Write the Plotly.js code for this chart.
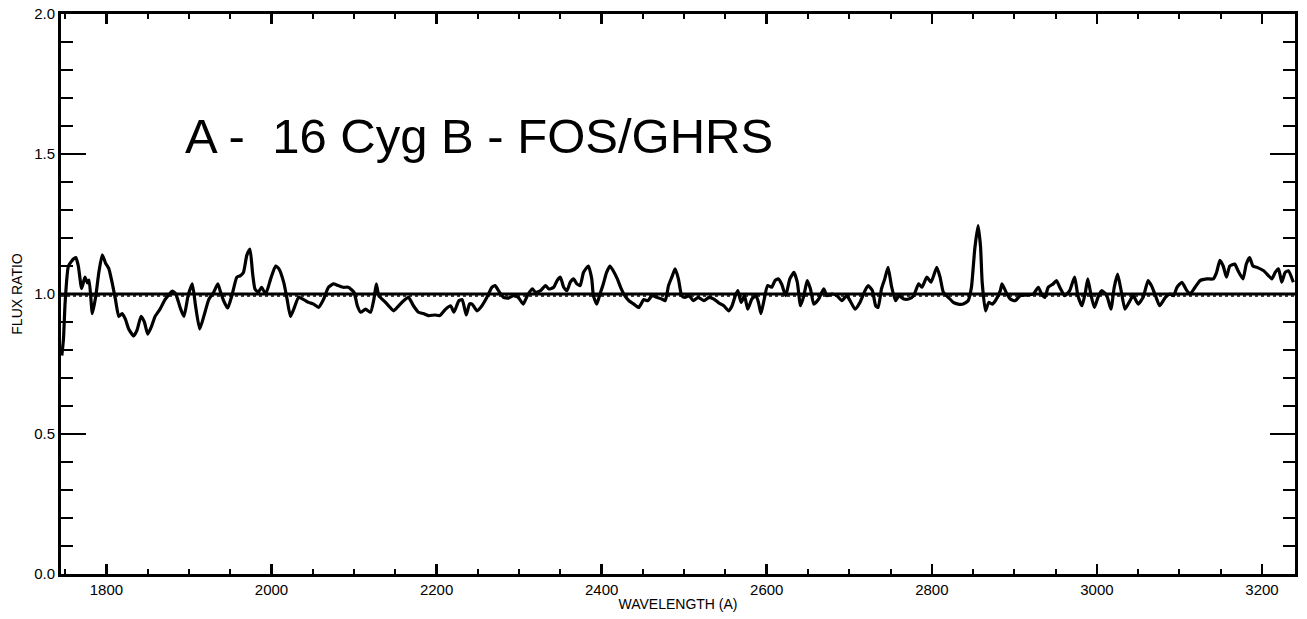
<!DOCTYPE html>
<html>
<head>
<meta charset="utf-8">
<script src="https://cdn.plot.ly/plotly-3.0.1.min.js"></script>
<style>html,body{margin:0;padding:0;background:#fff}#chart{width:1307px;height:619px}</style>
</head>
<body>
<div id="chart"></div>
<script>
// Wavelength (Angstrom) and FOS/GHRS flux ratio
const wavelength = [
1746,1748,1750,1754,1760,1763,1766,1770,1774,1777,1779,1783,1787,1791,1795,1799,1803,1807,1811,1815,
1819,1823,1827,1833,1837,1842,1846,1850,1855,1859,1865,1871,1880,1884,1890,1894,1899,1904,1908,1913,
1918,1924,1930,1935,1938,1942,1947,1952,1958,1962,1966,1970,1974,1977,1980,1984,1988,1993,1999,2005,
2009,2015,2019,2023,2027,2033,2039,2045,2051,2057,2063,2069,2075,2081,2087,2093,2100,2104,2108,2114,
2120,2124,2127,2130,2136,2142,2148,2154,2160,2166,2172,2178,2184,2190,2198,2204,2211,2217,2221,2227,
2231,2236,2240,2243,2249,2255,2261,2267,2271,2275,2281,2287,2293,2299,2305,2310,2316,2320,2326,2332,
2336,2342,2346,2350,2354,2358,2362,2366,2370,2374,2378,2384,2388,2390,2394,2398,2402,2406,2410,2414,
2419,2423,2428,2433,2439,2445,2451,2456,2461,2467,2473,2477,2481,2485,2489,2493,2497,2501,2506,2511,
2517,2524,2530,2536,2542,2548,2554,2558,2562,2565,2569,2573,2577,2582,2587,2590,2593,2597,2601,2606,
2610,2614,2618,2623,2628,2633,2637,2641,2645,2649,2653,2657,2663,2669,2673,2679,2685,2691,2697,2701,
2707,2713,2719,2723,2728,2732,2735,2739,2743,2747,2751,2756,2760,2766,2772,2778,2784,2788,2794,2799,
2806,2810,2814,2820,2826,2832,2838,2844,2848,2852,2856,2859,2861,2865,2869,2873,2877,2883,2885,2890,
2895,2901,2907,2915,2923,2929,2933,2937,2941,2947,2951,2955,2961,2967,2973,2977,2982,2986,2989,2993,
2997,3002,3006,3012,3017,3021,3025,3029,3034,3039,3044,3050,3056,3062,3066,3071,3076,3083,3089,3093,
3097,3103,3109,3113,3119,3125,3133,3141,3145,3149,3153,3157,3161,3167,3171,3177,3181,3185,3189,3194,
3202,3208,3212,3216,3220,3224,3228,3232,3238
];
const fluxRatio = [
0.78,0.84,0.97,1.10,1.125,1.13,1.10,1.02,1.06,1.04,1.05,0.93,0.99,1.08,1.14,1.11,1.09,1.04,0.98,0.92,
0.93,0.91,0.875,0.85,0.87,0.92,0.90,0.857,0.887,0.92,0.946,0.98,1.01,1.0,0.946,0.92,0.994,1.036,0.958,0.875,
0.92,0.98,1.006,1.036,1.01,0.976,0.95,0.994,1.06,1.065,1.077,1.137,1.16,1.077,1.018,1.006,1.024,1.0,1.054,1.10,
1.09,1.04,0.98,0.92,0.946,0.988,0.98,0.97,0.964,0.952,0.98,1.024,1.036,1.03,1.024,1.024,1.006,0.958,0.935,0.946,
0.935,0.98,1.036,0.994,0.976,0.958,0.94,0.958,0.976,0.988,0.958,0.935,0.93,0.923,0.925,0.923,0.946,0.958,0.935,0.976,
0.98,0.925,0.965,0.964,0.94,0.958,0.988,1.024,1.03,1.012,0.988,0.985,0.994,0.988,0.964,0.994,1.018,1.006,1.012,1.03,
1.018,1.024,1.048,1.06,1.024,1.012,1.042,1.054,1.036,1.03,1.077,1.10,1.054,0.994,0.964,1.0,1.036,1.077,1.10,1.083,
1.054,1.024,0.994,0.976,0.964,0.952,0.98,0.976,0.994,0.988,0.982,0.976,1.03,1.06,1.09,1.054,0.994,0.988,0.994,0.976,
0.988,0.976,0.988,0.982,0.968,0.958,0.94,0.958,0.994,1.012,0.97,0.994,0.946,0.982,0.994,0.97,0.93,0.982,1.03,1.024,
1.048,1.054,1.036,0.994,1.054,1.077,1.042,0.958,0.994,1.048,1.018,0.964,0.982,1.018,0.994,1.0,0.994,0.976,0.994,0.976,
0.946,0.97,1.012,1.03,1.012,0.958,0.952,1.018,1.054,1.095,1.03,0.976,0.994,0.982,0.982,0.994,1.036,1.024,1.06,1.042,
1.095,1.06,1.006,0.988,0.97,0.964,0.964,0.976,1.024,1.16,1.244,1.17,1.042,0.94,0.97,0.964,0.976,1.012,1.036,1.006,
0.982,0.976,0.994,0.996,1.0,1.024,1.0,0.988,1.024,1.036,1.048,1.024,0.994,1.012,1.06,0.994,0.958,1.006,1.054,0.994,
0.952,0.994,1.012,0.994,0.946,1.024,1.071,1.018,0.946,0.97,0.994,0.964,0.988,1.048,1.03,0.994,0.958,0.988,1.0,0.994,
1.024,1.042,1.012,1.0,1.024,1.048,1.054,1.054,1.077,1.12,1.10,1.06,1.10,1.107,1.083,1.054,1.107,1.13,1.10,1.095,
1.083,1.065,1.054,1.077,1.09,1.042,1.077,1.083,1.042
];
const xTickVals = [1800,2000,2200,2400,2600,2800,3000,3200];
const xTickText = ['1800','2000','2200','2400','2600','2800','3000','3200'];
const yTickVals = [0.0,0.5,1.0,1.5,2.0];
const yTickText = ['0.0','0.5','1.0','1.5','2.0'];
const refLevel = 1.0;
const refLevelDotted = 0.993;
const chartLabel = 'A -  16 Cyg B - FOS/GHRS';

const FONT = 'Liberation Sans, Arial, Helvetica, sans-serif';

const trace = {
  x: wavelength, y: fluxRatio, type: 'scatter', mode: 'lines',
  line: {color: '#000', width: 3.2, shape: 'spline', smoothing: 0.5},
  hoverinfo: 'x+y', showlegend: false
};

const layout = {
  width: 1307, height: 619,
  margin: {l: 61, r: 12, t: 14, b: 45, pad: 0},
  paper_bgcolor: '#fff', plot_bgcolor: '#fff',
  font: {family: FONT, color: '#000', size: 15},
  showlegend: false,
  xaxis: {
    range: [1745, 3240], autorange: false,
    showline: true, linecolor: '#000', linewidth: 3, mirror: 'ticks',
    ticks: 'inside', ticklen: 10, tickwidth: 2.5, tickcolor: '#000',
    tickmode: 'array', tickvals: xTickVals, ticktext: xTickText,
    tickfont: {family: FONT, size: 15, color: '#000'},
    minor: {dtick: 50, tick0: 1750, ticks: 'inside', ticklen: 5, tickwidth: 2, tickcolor: '#000', showgrid: false},
    showgrid: false, zeroline: false, automargin: false,
    title: {text: 'WAVELENGTH (A)', font: {family: FONT, size: 14, color: '#000'}, standoff: 3}
  },
  yaxis: {
    range: [0, 2], autorange: false,
    showline: true, linecolor: '#000', linewidth: 3, mirror: 'ticks',
    ticks: 'inside', ticklen: 25, tickwidth: 2.5, tickcolor: '#000',
    tickmode: 'array', tickvals: yTickVals, ticktext: yTickText,
    tickfont: {family: FONT, size: 15, color: '#000'},
    minor: {dtick: 0.1, tick0: 0, ticks: 'inside', ticklen: 12, tickwidth: 2.5, tickcolor: '#000', showgrid: false},
    showgrid: false, zeroline: false, automargin: false,
    title: {text: 'FLUX RATIO', font: {family: FONT, size: 14, color: '#000'}, standoff: 9}
  },
  shapes: [
    {type: 'line', xref: 'paper', x0: 0, x1: 1, yref: 'y', y0: refLevelDotted, y1: refLevelDotted,
     line: {color: '#000', width: 1.5, dash: 'dot'}, layer: 'below'},
    {type: 'line', xref: 'paper', x0: 0, x1: 1, yref: 'y', y0: refLevel, y1: refLevel,
     line: {color: '#000', width: 3}}
  ],
  annotations: [
    {text: chartLabel, xref: 'paper', yref: 'paper', x: 0.0989, y: 0.782,
     xanchor: 'left', yanchor: 'middle', showarrow: false,
     font: {family: FONT, size: 49, color: '#000'}}
  ]
};

Plotly.newPlot('chart', [trace], layout, {displayModeBar: false, staticPlot: true});
</script>
</body>
</html>
